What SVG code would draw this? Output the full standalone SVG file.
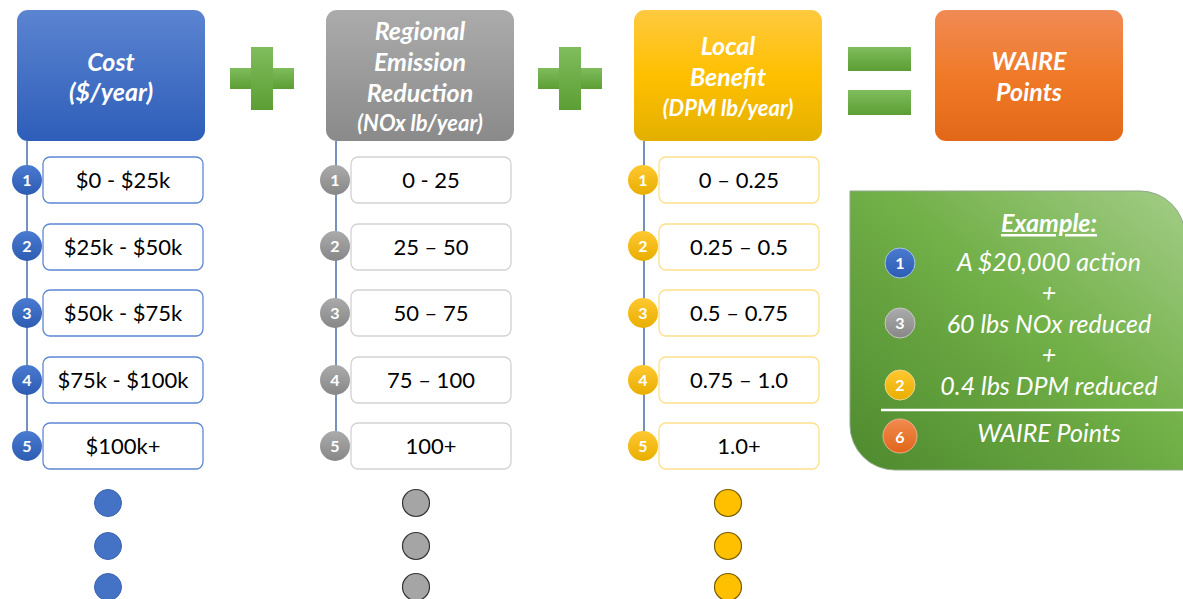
<svg xmlns="http://www.w3.org/2000/svg" width="1183" height="599" viewBox="0 0 1183 599">
<defs>
<linearGradient id="gBlue" x1="0" y1="0" x2="0" y2="1"><stop offset="0" stop-color="#5B84D1"/><stop offset="1" stop-color="#2E5EB9"/></linearGradient>
<linearGradient id="gGray" x1="0" y1="0" x2="0" y2="1"><stop offset="0" stop-color="#ABABAB"/><stop offset="1" stop-color="#8A8A8A"/></linearGradient>
<linearGradient id="gYel" x1="0" y1="0" x2="0" y2="1"><stop offset="0" stop-color="#FFC940"/><stop offset="0.5" stop-color="#FFC000"/><stop offset="1" stop-color="#E3B000"/></linearGradient>
<linearGradient id="gOr" x1="0" y1="0" x2="0" y2="1"><stop offset="0" stop-color="#F08A55"/><stop offset="0.5" stop-color="#F07A28"/><stop offset="1" stop-color="#E26818"/></linearGradient>
<linearGradient id="gGreen" x1="0" y1="0" x2="0" y2="1"><stop offset="0" stop-color="#80BC5C"/><stop offset="1" stop-color="#5C9E34"/></linearGradient>
<linearGradient id="gEx" x1="1" y1="0" x2="0" y2="1"><stop offset="0" stop-color="#A3CD87"/><stop offset="0.45" stop-color="#72B048"/><stop offset="1" stop-color="#4E8A2E"/></linearGradient>
<linearGradient id="cBlue" x1="0" y1="0" x2="0" y2="1"><stop offset="0" stop-color="#4A7BD0"/><stop offset="1" stop-color="#2D5CB3"/></linearGradient>
<linearGradient id="cGray" x1="0" y1="0" x2="0" y2="1"><stop offset="0" stop-color="#ABABAB"/><stop offset="1" stop-color="#878787"/></linearGradient>
<linearGradient id="cYel" x1="0" y1="0" x2="0" y2="1"><stop offset="0" stop-color="#FFC830"/><stop offset="1" stop-color="#E8AE00"/></linearGradient>
<linearGradient id="cOr" x1="0" y1="0" x2="0" y2="1"><stop offset="0" stop-color="#F28A4E"/><stop offset="1" stop-color="#E0661A"/></linearGradient>
</defs>
<style>
text{font-family:Lato,"Open Sans","Liberation Sans",sans-serif;text-anchor:middle}
.hd{fill:#fff;font-weight:bold;font-style:italic;font-size:25px}
.hs{font-size:22px}
.box{fill:#fff;stroke-width:1.3}
.bb{stroke:#5D87D2}.bg{stroke:#D2D2D2}.by{stroke:#FFDF8A}
.it{fill:#000;font-size:22px}
.num{fill:#fff;font-weight:bold;font-size:16px}
.ln{stroke:#4A6CA8;stroke-width:1.5}
.ex{fill:#fff;font-style:italic;font-size:25px}
</style>

<g id="connectors">
<line class="ln" x1="27" y1="141" x2="27" y2="446"/>
<line class="ln" x1="336" y1="141" x2="336" y2="446"/>
<line class="ln" x1="644" y1="141" x2="644" y2="446"/>
</g>

<g id="cost-header">
<rect x="17" y="10" width="188" height="131" rx="11" fill="url(#gBlue)"/>
<text class="hd" x="111" y="71">Cost</text>
<text class="hd" x="111" y="101">($/year)</text>
</g>
<g id="plus1">
<rect x="230" y="68" width="64" height="21" fill="url(#gGreen)"/>
<rect x="251" y="47" width="22" height="63" fill="url(#gGreen)"/>
</g>
<g id="regional-header">
<rect x="326" y="10" width="188" height="131" rx="11" fill="url(#gGray)"/>
<text class="hd" x="420" y="40">Regional</text>
<text class="hd" x="420" y="71">Emission</text>
<text class="hd" x="420" y="102">Reduction</text>
<text class="hd hs" x="420" y="131">(NOx lb/year)</text>
</g>
<g id="plus2">
<rect x="538" y="68" width="64" height="21" fill="url(#gGreen)"/>
<rect x="559" y="47" width="22" height="63" fill="url(#gGreen)"/>
</g>
<g id="local-header">
<rect x="634" y="10" width="188" height="131" rx="11" fill="url(#gYel)"/>
<text class="hd" x="728" y="55">Local</text>
<text class="hd" x="728" y="86">Benefit</text>
<text class="hd hs" x="728" y="116">(DPM lb/year)</text>
</g>
<g id="equals">
<rect x="848" y="47" width="63" height="24" fill="url(#gGreen)"/>
<rect x="848" y="90" width="63" height="25" fill="url(#gGreen)"/>
</g>
<g id="waire-header">
<rect x="935" y="10" width="188" height="131" rx="11" fill="url(#gOr)"/>
<text class="hd" x="1029" y="70">WAIRE</text>
<text class="hd" x="1029" y="101">Points</text>
</g>

<g id="cost-items">
<rect class="box bb" x="43" y="157" width="160" height="46" rx="7"/><text class="it" x="123" y="188">$0 - $25k</text>
<rect class="box bb" x="43" y="224" width="160" height="46" rx="7"/><text class="it" x="123" y="255">$25k - $50k</text>
<rect class="box bb" x="43" y="290" width="160" height="46" rx="7"/><text class="it" x="123" y="321">$50k - $75k</text>
<rect class="box bb" x="43" y="357" width="160" height="46" rx="7"/><text class="it" x="123" y="388">$75k - $100k</text>
<rect class="box bb" x="43" y="423" width="160" height="46" rx="7"/><text class="it" x="123" y="454">$100k+</text>
<g fill="url(#cBlue)">
<circle cx="27" cy="180" r="15"/><circle cx="27" cy="246" r="15"/><circle cx="27" cy="313" r="15"/><circle cx="27" cy="380" r="15"/><circle cx="27" cy="446" r="15"/>
</g>
<text class="num" x="27" y="186">1</text><text class="num" x="27" y="252">2</text><text class="num" x="27" y="319">3</text><text class="num" x="27" y="386">4</text><text class="num" x="27" y="452">5</text>
</g>

<g id="regional-items">
<rect class="box bg" x="351" y="157" width="160" height="46" rx="7"/><text class="it" x="431" y="188">0 - 25</text>
<rect class="box bg" x="351" y="224" width="160" height="46" rx="7"/><text class="it" x="431" y="255">25 – 50</text>
<rect class="box bg" x="351" y="290" width="160" height="46" rx="7"/><text class="it" x="431" y="321">50 – 75</text>
<rect class="box bg" x="351" y="357" width="160" height="46" rx="7"/><text class="it" x="431" y="388">75 – 100</text>
<rect class="box bg" x="351" y="423" width="160" height="46" rx="7"/><text class="it" x="431" y="454">100+</text>
<g fill="url(#cGray)">
<circle cx="335" cy="180" r="15"/><circle cx="335" cy="246" r="15"/><circle cx="335" cy="313" r="15"/><circle cx="335" cy="380" r="15"/><circle cx="335" cy="446" r="15"/>
</g>
<text class="num" x="335" y="186">1</text><text class="num" x="335" y="252">2</text><text class="num" x="335" y="319">3</text><text class="num" x="335" y="386">4</text><text class="num" x="335" y="452">5</text>
</g>

<g id="local-items">
<rect class="box by" x="659" y="157" width="160" height="46" rx="7"/><text class="it" x="739" y="188">0 – 0.25</text>
<rect class="box by" x="659" y="224" width="160" height="46" rx="7"/><text class="it" x="739" y="255">0.25 – 0.5</text>
<rect class="box by" x="659" y="290" width="160" height="46" rx="7"/><text class="it" x="739" y="321">0.5 – 0.75</text>
<rect class="box by" x="659" y="357" width="160" height="46" rx="7"/><text class="it" x="739" y="388">0.75 – 1.0</text>
<rect class="box by" x="659" y="423" width="160" height="46" rx="7"/><text class="it" x="739" y="454">1.0+</text>
<g fill="url(#cYel)">
<circle cx="643" cy="180" r="15"/><circle cx="643" cy="246" r="15"/><circle cx="643" cy="313" r="15"/><circle cx="643" cy="380" r="15"/><circle cx="643" cy="446" r="15"/>
</g>
<text class="num" x="643" y="186">1</text><text class="num" x="643" y="252">2</text><text class="num" x="643" y="319">3</text><text class="num" x="643" y="386">4</text><text class="num" x="643" y="452">5</text>
</g>

<g id="continuation-dots">
<g fill="#4472C4" stroke="#3A64B0" stroke-width="1"><circle cx="108" cy="503" r="13.5"/><circle cx="108" cy="546" r="13.5"/><circle cx="108" cy="587" r="13.5"/></g>
<g fill="#A5A5A5" stroke="#333" stroke-width="1.2"><circle cx="416" cy="503" r="13.5"/><circle cx="416" cy="546" r="13.5"/><circle cx="416" cy="587" r="13.5"/></g>
<g fill="#FFC000" stroke="#7A5C00" stroke-width="1.2"><circle cx="728" cy="503" r="13.5"/><circle cx="728" cy="546" r="13.5"/><circle cx="728" cy="587" r="13.5"/></g>
</g>

<g id="example">
<path d="M850,191 H1140 A45,45 0 0 1 1185,236 V470 H895 A45,45 0 0 1 850,425 Z" fill="url(#gEx)" stroke="#8FA98A" stroke-width="1"/>
<text class="ex" x="1049" y="232" font-weight="bold" text-decoration="underline">Example:</text>
<text class="ex" x="1049" y="271">A $20,000 action</text>
<text class="ex" x="1049" y="302">+</text>
<text class="ex" x="1049" y="333">60 lbs NOx reduced</text>
<text class="ex" x="1049" y="364">+</text>
<text class="ex" x="1049" y="395">0.4 lbs DPM reduced</text>
<line x1="881" y1="410" x2="1183" y2="410" stroke="#fff" stroke-width="2.5"/>
<text class="ex" x="1049" y="442">WAIRE Points</text>
<circle cx="900" cy="263" r="15" fill="url(#cBlue)" stroke="#A9C4E0" stroke-width="1"/><text class="num" x="900" y="269">1</text>
<circle cx="900" cy="323" r="15" fill="url(#cGray)" stroke="#C8C8C8" stroke-width="1"/><text class="num" x="900" y="329">3</text>
<circle cx="900" cy="385" r="15" fill="url(#cYel)" stroke="#EBD58A" stroke-width="1"/><text class="num" x="900" y="391">2</text>
<circle cx="900" cy="436" r="17" fill="url(#cOr)" stroke="#E8B090" stroke-width="1"/><text class="num" x="900" y="443" font-size="19">6</text>
</g>
</svg>
